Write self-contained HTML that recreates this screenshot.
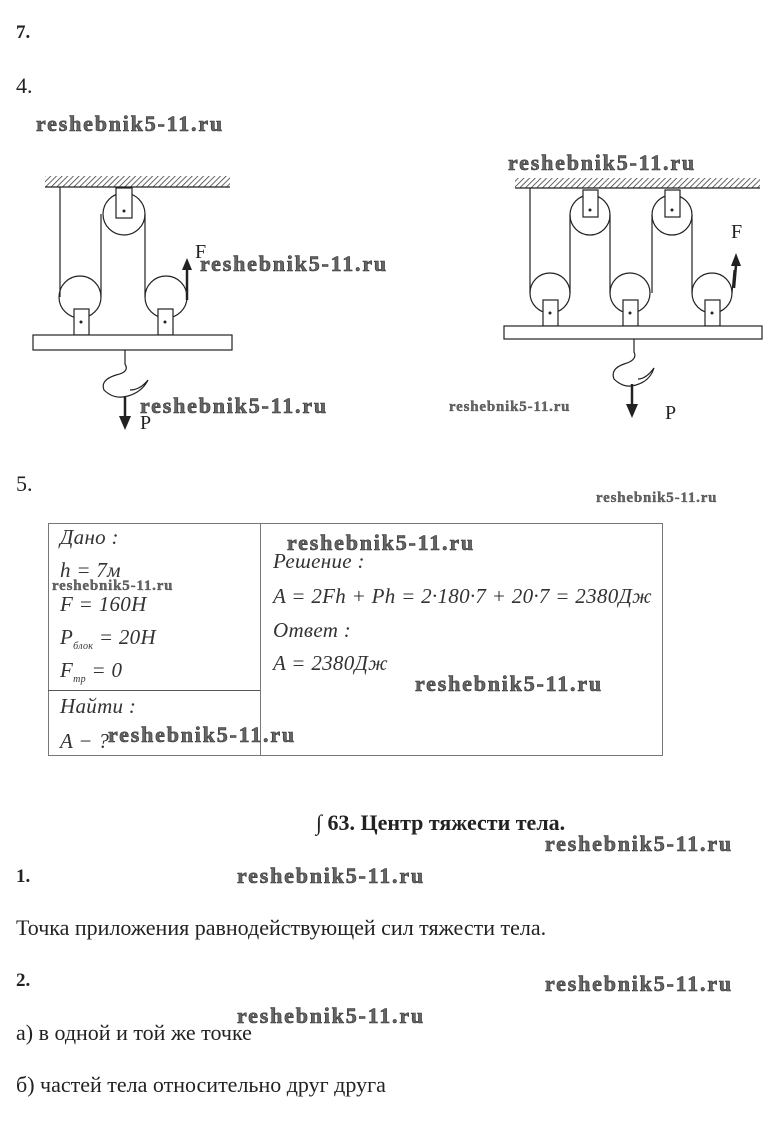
<!DOCTYPE html>
<html><head><meta charset="utf-8">
<style>
body{margin:0;width:775px;height:1145px;background:#fff;position:relative;overflow:hidden;font-family:"Liberation Serif",serif;color:#222}
.t{position:absolute;line-height:1;white-space:nowrap}
.w{position:absolute;line-height:1;white-space:nowrap;font-family:"Liberation Serif",serif;font-weight:bold;color:#666;-webkit-text-stroke:0.6px #333;font-size:22px;letter-spacing:1.8px}
.ws{font-size:15px;letter-spacing:0.8px;-webkit-text-stroke:0.3px #333}
.n{font-weight:bold;font-size:19px}
.r{font-size:22px}
.i{font-style:italic;font-size:21px;color:#333;letter-spacing:0.3px}
</style></head><body>
<div class="t n" style="left:16px;top:23px">7.</div>
<div class="t r" style="left:16px;top:75px">4.</div>
<div class="w" style="left:36px;top:113px">reshebnik5-11.ru</div>

<svg style="position:absolute;left:0;top:0" width="775" height="450">
<defs><pattern id="h" width="4" height="4" patternUnits="userSpaceOnUse" patternTransform="rotate(45)"><line x1="0" y1="0" x2="0" y2="4" stroke="#333" stroke-width="1.5"/></pattern></defs>
<g fill="none" stroke="#222" stroke-width="1.2">
<rect x="45" y="176" width="185" height="11" fill="url(#h)" stroke="none"/>
<line x1="45" y1="187" x2="230" y2="187"/>
<line x1="60" y1="187" x2="60" y2="297"/>
<circle cx="124" cy="214" r="21"/>
<circle cx="80" cy="297" r="21"/>
<circle cx="166" cy="297" r="21"/>
<line x1="101" y1="297" x2="101" y2="214"/>
<line x1="145" y1="297" x2="145" y2="214"/>
<line x1="187" y1="297" x2="187" y2="270"/>
<rect x="116" y="188" width="16" height="30" fill="#fff"/>
<rect x="74" y="309" width="15" height="26" fill="#fff"/>
<rect x="158" y="309" width="15" height="26" fill="#fff"/>
<rect x="33" y="335" width="199" height="15" fill="#fff"/>
<path d="M125 350 L125 364 Q130 372 116 375 Q100 380 104 390 Q114 400 128 396 Q142 392 148 380 Q140 390 130 390"/>
<line x1="125" y1="396" x2="125" y2="420" stroke-width="2.5"/>
<rect x="515" y="178" width="245" height="10" fill="url(#h)" stroke="none"/>
<line x1="515" y1="188" x2="760" y2="188"/>
<line x1="530" y1="188" x2="530" y2="293"/>
<circle cx="590" cy="215" r="20"/><circle cx="672" cy="215" r="20"/>
<circle cx="550" cy="293" r="20"/><circle cx="630" cy="293" r="20"/><circle cx="712" cy="293" r="20"/>
<line x1="570" y1="293" x2="570" y2="215"/><line x1="610" y1="293" x2="610" y2="215"/>
<line x1="652" y1="293" x2="652" y2="215"/><line x1="692" y1="293" x2="692" y2="215"/>
<line x1="732" y1="293" x2="734" y2="270"/>
<rect x="583" y="190" width="15" height="27" fill="#fff"/>
<rect x="665" y="190" width="15" height="27" fill="#fff"/>
<rect x="543" y="300" width="15" height="26" fill="#fff"/>
<rect x="623" y="300" width="15" height="26" fill="#fff"/>
<rect x="705" y="300" width="15" height="26" fill="#fff"/>
<rect x="504" y="326" width="258" height="13" fill="#fff"/>
<path d="M634 339 L634 352 Q638 360 624 364 Q610 369 614 379 Q624 389 636 385 Q650 381 654 368 Q646 379 638 379"/>
<line x1="632" y1="384" x2="632" y2="408" stroke-width="2.5"/>
</g>
<g fill="#222" stroke="none">
<circle cx="124" cy="211" r="1.5"/><circle cx="81" cy="322" r="1.5"/><circle cx="165" cy="322" r="1.5"/>
<circle cx="590" cy="210" r="1.5"/><circle cx="672" cy="210" r="1.5"/>
<circle cx="550" cy="313" r="1.5"/><circle cx="630" cy="313" r="1.5"/><circle cx="712" cy="313" r="1.5"/>
<line x1="187" y1="300" x2="187" y2="268" stroke="#222" stroke-width="2.5"/>
<polygon points="182,270 192,270 187,258"/>
<line x1="734" y1="288" x2="736" y2="265" stroke="#222" stroke-width="2.5"/>
<polygon points="731,266 741,266 736,253"/>
<polygon points="119,416 131,416 125,430"/>
<polygon points="626,404 638,404 632,418"/>
</g>
</svg>
<div class="t" style="left:195px;top:242px;font-size:20px">F</div>
<div class="w" style="left:200px;top:253px">reshebnik5-11.ru</div>
<div class="t" style="left:140px;top:413px;font-size:20px">P</div>
<div class="w" style="left:140px;top:395px">reshebnik5-11.ru</div>
<div class="w" style="left:508px;top:152px">reshebnik5-11.ru</div>
<div class="t" style="left:731px;top:222px;font-size:20px">F</div>
<div class="t" style="left:665px;top:403px;font-size:20px">P</div>
<div class="w ws" style="left:449px;top:400px">reshebnik5-11.ru</div>

<div class="t r" style="left:16px;top:473px">5.</div>
<div class="w ws" style="left:596px;top:491px">reshebnik5-11.ru</div>

<div style="position:absolute;left:48px;top:523px;width:613px;height:231px;border:1px solid #777"></div>
<div style="position:absolute;left:260px;top:523px;width:1px;height:233px;background:#777"></div>
<div style="position:absolute;left:48px;top:690px;width:212px;height:1px;background:#555"></div>
<div class="t i" style="left:60px;top:527px">Дано :</div>
<div class="t i" style="left:60px;top:560px">h = 7м</div>
<div class="w ws" style="left:52px;top:579px">reshebnik5-11.ru</div>
<div class="t i" style="left:60px;top:594px">F = 160H</div>
<div class="t i" style="left:60px;top:627px">P<sub style="font-size:10px">блок</sub> = 20H</div>
<div class="t i" style="left:60px;top:660px">F<sub style="font-size:10px">тр</sub> = 0</div>
<div class="t i" style="left:60px;top:696px">Найти :</div>
<div class="t i" style="left:60px;top:731px">A − ?</div>
<div class="w" style="left:108px;top:724px">reshebnik5-11.ru</div>
<div class="w" style="left:287px;top:532px">reshebnik5-11.ru</div>
<div class="t i" style="left:273px;top:551px">Решение :</div>
<div class="t i" style="left:273px;top:586px">A = 2Fh + Ph = 2·180·7 + 20·7 = 2380Дж</div>
<div class="t i" style="left:273px;top:620px">Ответ :</div>
<div class="t i" style="left:273px;top:653px">A = 2380Дж</div>
<div class="w" style="left:415px;top:673px">reshebnik5-11.ru</div>

<div class="t" style="left:316px;top:812px;font-size:22px;font-weight:bold">∫ 63. Центр тяжести тела.</div>
<div class="w" style="left:545px;top:833px">reshebnik5-11.ru</div>
<div class="t n" style="left:16px;top:867px">1.</div>
<div class="w" style="left:237px;top:865px">reshebnik5-11.ru</div>
<div class="t r" style="left:16px;top:917px">Точка приложения равнодействующей сил тяжести тела.</div>
<div class="t n" style="left:16px;top:971px">2.</div>
<div class="w" style="left:545px;top:973px">reshebnik5-11.ru</div>
<div class="w" style="left:237px;top:1005px">reshebnik5-11.ru</div>
<div class="t r" style="left:16px;top:1022px">а) в одной и той же точке</div>
<div class="t r" style="left:16px;top:1074px">б) частей тела относительно друг друга</div>
</body></html>
